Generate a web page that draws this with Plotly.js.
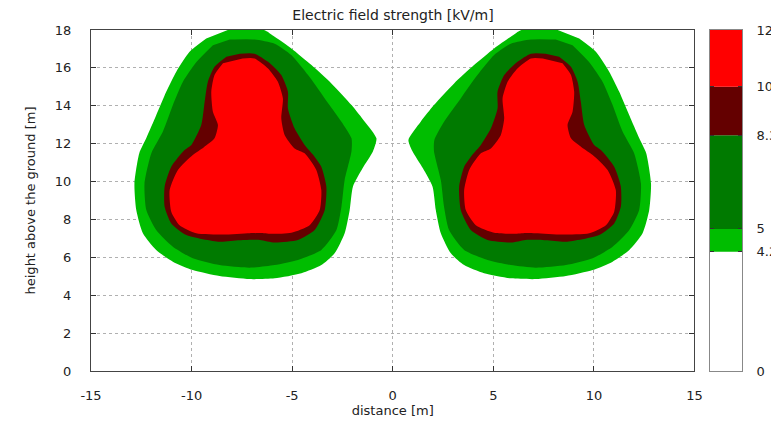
<!DOCTYPE html>
<html>
<head>
<meta charset="utf-8">
<script src="https://cdn.plot.ly/plotly-3.0.1.min.js"></script>
<style>html,body{margin:0;padding:0;background:#fff;}#chart{width:771px;height:422px;}</style>
</head>
<body>
<div id="chart"></div>
<script>
// ---- data ----
const xTicks = [-15, -10, -5, 0, 5, 10, 15];
const xTickLabels = ['-15', '-10', '-5', '0', '5', '10', '15'];
const yTicks = [0, 2, 4, 6, 8, 10, 12, 14, 16, 18];
const levels = [0, 4.2, 5, 8.3, 10, 12];
const levelLabels = ['0', '4.2', '5', '8.3', '10', '12'];
const bandColors = ['#ffffff', '#00bd00', '#007a00', '#640000', '#ff0000'];

// left conductor bundle: iso-field boundaries [m]
const left42X = [-8.2,-6.4,-5.87,-5.04,-4.04,-3.05,-2.05,-1.39,-0.81,-0.98,-1.5,-1.98,-2.14,-2.39,-2.89,-3.55,-4.54,-5.87,-7.11,-8.61,-9.94,-10.93,-11.76,-12.42,-12.75,-12.84,-12.6,-12.25,-11.76,-11.26,-10.76,-10.1,-9.27];
const left42Y = [18,18,17.64,17.03,16.15,15.18,14.04,13.16,12.28,11.6,10.7,9.73,8.5,7.27,6.21,5.59,5.16,4.89,4.85,5.01,5.33,5.77,6.39,7.27,8.5,9.9,11.5,12.3,13.5,14.74,15.8,16.85,17.55];
const left5X = [-8.1,-6.87,-5.87,-5.04,-4.21,-3.38,-2.55,-2.05,-2.05,-2.39,-2.55,-2.8,-3.55,-4.71,-5.87,-7.11,-8.61,-9.94,-10.93,-11.76,-12.25,-12.34,-12.0,-11.43,-10.93,-10.43,-9.77,-8.94];
const left5Y = [17.5,17.5,17.28,16.68,15.62,14.39,13.16,12.28,11.6,10.08,8.67,7.44,6.39,5.86,5.59,5.45,5.59,5.95,6.56,7.44,8.5,9.9,11.5,12.63,14.04,15.27,16.3,17.2];
const left83X = [-7.6,-6.87,-6.2,-5.54,-5.21,-5.21,-4.88,-4.38,-3.95,-3.55,-3.3,-3.38,-3.88,-4.71,-5.87,-6.6,-7.61,-8.61,-10.26,-11.01,-11.34,-11.34,-11.01,-10.35,-10.01,-9.52,-9.35,-9.19,-8.86,-8.27];
const left83Y = [16.75,16.75,16.32,15.62,14.74,13.86,12.81,11.93,11.4,10.78,9.73,8.5,7.44,6.91,6.78,6.92,6.9,6.82,7.18,7.79,8.67,9.73,10.78,11.66,11.93,12.98,14.21,15.27,16.06,16.59];
const left10X = [-7.46,-6.87,-6.2,-5.71,-5.46,-5.54,-5.37,-4.88,-4.38,-3.8,-3.55,-3.63,-4.13,-5.04,-6.04,-6.6,-7.11,-8.44,-9.77,-10.6,-11.01,-11.09,-10.68,-9.94,-9.4,-8.86,-8.69,-8.94,-9.02,-8.86,-8.44];
const left10Y = [16.5,16.5,15.97,15.27,14.39,13.33,12.45,11.75,11.49,10.61,9.55,8.5,7.7,7.3,7.24,7.28,7.27,7.2,7.27,7.7,8.41,9.55,10.61,11.4,11.8,12.28,12.98,13.68,14.74,15.62,16.24];

// right conductor bundle
const right42X = [8.2,6.4,5.87,5.04,4.04,3.05,2.05,1.39,0.78,0.98,1.5,1.98,2.14,2.39,2.89,3.55,4.54,5.87,7.11,8.61,9.94,10.93,11.76,12.42,12.75,12.84,12.6,12.25,11.76,11.26,10.76,10.1,9.27];
const right42Y = [18,18,17.64,17.03,16.15,15.18,14.04,13.16,12.2,11.6,10.7,9.73,8.5,7.27,6.21,5.59,5.16,4.89,4.85,5.01,5.33,5.77,6.39,7.27,8.5,9.9,11.5,12.3,13.5,14.74,15.8,16.85,17.55];
const right5X = [8.1,6.87,5.87,5.04,4.21,3.38,2.55,2.07,2.05,2.39,2.55,2.8,3.55,4.71,5.87,7.11,8.61,9.94,10.93,11.76,12.25,12.34,12.0,11.43,10.93,10.43,9.77,8.94];
const right5Y = [17.5,17.5,17.28,16.68,15.62,14.39,13.16,12.2,11.6,10.08,8.67,7.44,6.39,5.86,5.59,5.45,5.59,5.95,6.56,7.44,8.5,9.9,11.5,12.63,14.04,15.27,16.3,17.2];
const right83X = [7.6,6.87,6.2,5.54,5.21,5.21,4.88,4.38,3.95,3.55,3.3,3.38,3.88,4.71,5.87,6.6,7.61,8.61,10.26,11.01,11.34,11.34,11.01,10.35,10.01,9.52,9.35,9.19,8.86,8.27];
const right83Y = [16.75,16.75,16.32,15.62,14.74,13.86,12.81,11.93,11.4,10.78,9.73,8.5,7.44,6.91,6.78,6.92,6.9,6.82,7.18,7.79,8.67,9.73,10.78,11.66,11.93,12.98,14.21,15.27,16.06,16.59];
const right10X = [7.46,6.87,6.2,5.71,5.46,5.54,5.37,4.88,4.38,3.8,3.55,3.63,4.13,5.04,6.04,6.6,7.11,8.44,9.77,10.6,11.01,11.09,10.68,9.94,9.4,8.86,8.69,8.94,9.02,8.86,8.44];
const right10Y = [16.5,16.5,15.97,15.27,14.39,13.33,12.45,11.75,11.49,10.61,9.55,8.5,7.7,7.3,7.24,7.28,7.27,7.2,7.27,7.7,8.41,9.55,10.61,11.4,11.8,12.28,12.98,13.68,14.74,15.62,16.24];

// ---- build traces ----
function region(xs, ys, color) {
  return {
    type: 'scatter', mode: 'lines', x: xs, y: ys,
    fill: 'toself', fillcolor: color,
    line: {width: 0, color: color, shape: 'spline', smoothing: 0.6},
    hoverinfo: 'skip', xaxis: 'x', yaxis: 'y'
  };
}
const traces = [
  region(left42X, left42Y, bandColors[1]),
  region(left5X, left5Y, bandColors[2]),
  region(left83X, left83Y, bandColors[3]),
  region(left10X, left10Y, bandColors[4]),
  region(right42X, right42Y, bandColors[1]),
  region(right5X, right5Y, bandColors[2]),
  region(right83X, right83Y, bandColors[3]),
  region(right10X, right10Y, bandColors[4])
];
// colour key
traces.push({
  type: 'bar', xaxis: 'x2', yaxis: 'y2',
  x: bandColors.map(() => 0.5),
  base: levels.slice(0, -1),
  y: levels.slice(1).map((v, i) => v - levels[i]),
  width: 1,
  marker: {color: bandColors, line: {width: 0}},
  hoverinfo: 'skip'
});

const axisFont = {family: 'DejaVu Sans, Arial, sans-serif', size: 13, color: '#222'};
const layout = {
  width: 771, height: 422,
  margin: {l: 91, r: 29, t: 30, b: 51, pad: 0},
  paper_bgcolor: '#ffffff', plot_bgcolor: '#ffffff',
  showlegend: false,
  font: axisFont,
  title: {
    text: 'Electric field strength [kV/m]',
    xref: 'container', x: 393 / 771, xanchor: 'center',
    yref: 'container', y: 1 - 15 / 422, yanchor: 'middle',
    font: {family: 'DejaVu Sans, Arial, sans-serif', size: 14, color: '#222'}
  },
  xaxis: {
    domain: [0, 0.927], range: [-15, 15], tickvals: xTicks, ticktext: xTickLabels,
    ticks: 'inside', ticklen: 5, tickcolor: '#333', tickwidth: 1,
    showline: true, linecolor: '#444', linewidth: 1, mirror: 'ticks',
    showgrid: true, gridcolor: '#b0b0b0', griddash: 'dot', gridwidth: 1,
    zeroline: false, ticklabelstandoff: 12, tickfont: axisFont,
    title: {text: 'distance [m]', standoff: 2, font: axisFont}
  },
  yaxis: {
    domain: [0, 1], range: [0, 18], tickvals: yTicks,
    ticks: 'inside', ticklen: 5, tickcolor: '#333', tickwidth: 1,
    showline: true, linecolor: '#444', linewidth: 1, mirror: 'ticks',
    showgrid: true, gridcolor: '#b0b0b0', griddash: 'dot', gridwidth: 1,
    zeroline: false, ticklabelstandoff: 16, tickfont: axisFont,
    title: {text: 'height above the ground [m]', standoff: 16, font: axisFont}
  },
  xaxis2: {
    domain: [0.9508, 1], range: [0, 1], anchor: 'y2',
    showticklabels: false, ticks: '', showgrid: false, zeroline: false,
    showline: true, mirror: true, linecolor: '#888', linewidth: 1, fixedrange: true
  },
  yaxis2: {
    domain: [0, 1], range: [0, 12], anchor: 'x2', side: 'right',
    tickvals: levels, ticktext: levelLabels,
    ticks: 'inside', ticklen: 4, tickcolor: '#333',
    showgrid: false, zeroline: false,
    showline: true, mirror: 'ticks', linecolor: '#888', linewidth: 1,
    ticklabelstandoff: 11, tickfont: axisFont, fixedrange: true
  }
};

Plotly.newPlot('chart', traces, layout, {displayModeBar: false, staticPlot: true});
</script>
</body>
</html>
